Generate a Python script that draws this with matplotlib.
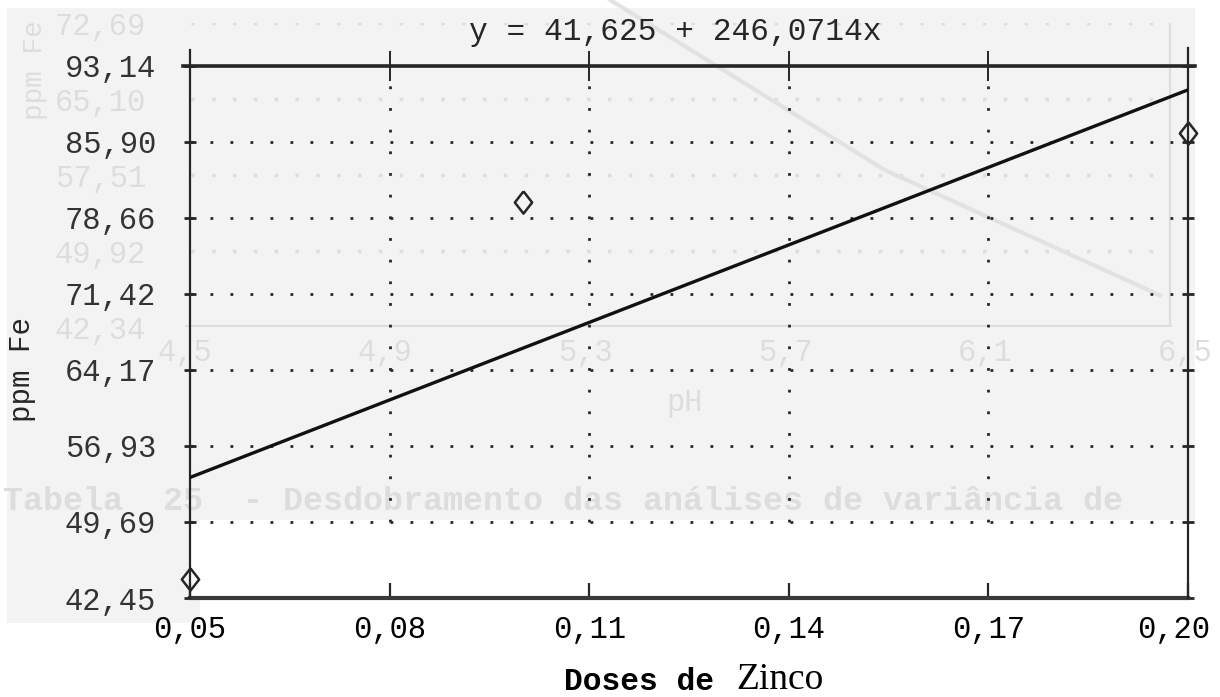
import matplotlib.pyplot as plt
from matplotlib.patches import Rectangle
from matplotlib.transforms import ScaledTranslation

# observacoes (doses de zinco x ppm Fe)
doses = [0.05, 0.10, 0.20]
fe_ppm = [44.3, 80.2, 86.7]

# reta ajustada
intercept = 41.625
slope = 246.0714

x_ticks = [0.05, 0.08, 0.11, 0.14, 0.17, 0.20]
y_ticks = [42.45, 49.69, 56.93, 64.17, 71.42, 78.66, 85.90, 93.14]

# grafico da pagina anterior (transparece no papel)
ghost_y_ticks = [42.34, 49.92, 57.51, 65.10, 72.69]
ghost_x_ticks = [4.5, 4.9, 5.3, 5.7, 6.1, 6.5]
ghost_ph = [5.35, 5.9, 6.45]
ghost_fe = [75.0, 58.0, 45.5]
ghost_caption = "Tabela  25  - Desdobramento das análises de variância de"

W, H = 1220, 697
MONO = "Liberation Mono"
INK = "#262626"
GHOST = "#dddddd"


def virgula(v, casas=2):
    return f"{v:.{casas}f}".replace(".", ",")


fig = plt.figure(figsize=(W / 100, H / 100), dpi=100)
fig.patch.set_facecolor("white")

# fundo acinzentado da digitalizacao, em pixels da figura
bg = fig.add_axes([0, 0, 1, 1], zorder=0)
bg.set_xlim(0, W)
bg.set_ylim(H, 0)
bg.axis("off")
bg.add_patch(Rectangle((7, 8), 1188, 512, color="#f3f3f3", lw=0))
bg.add_patch(Rectangle((7, 520), 193, 103, color="#f3f3f3", lw=0))

# grafico fantasma
gh = fig.add_axes([185 / W, 1 - 327 / H, 1000 / W, 304 / H], zorder=1)
gh.patch.set_visible(False)
gh.set_xlim(4.5, 6.5)
gh.set_ylim(42.34, 72.69)
for s in gh.spines.values():
    s.set_visible(False)
gh.tick_params(length=0, colors=GHOST, labelsize=22, pad=28)
gh.set_yticks(ghost_y_ticks, [virgula(v) for v in ghost_y_ticks], fontfamily=MONO)
gh.set_xticks(ghost_x_ticks, [virgula(v, 1) for v in ghost_x_ticks], fontfamily=MONO)
gh.tick_params(axis="x", pad=8)
gh.hlines(ghost_y_ticks[1:], 4.47, 6.47, colors=GHOST, lw=2.5, linestyles=(0, (1, 5)))
gh.axhline(ghost_y_ticks[0], 0, 0.985, color=GHOST, lw=3)
gh.axvline(6.47, color=GHOST, lw=1.6)
gh.plot(ghost_ph, ghost_fe, color="#e2e2e2", lw=3, clip_on=False)
gh.set_xlabel("pH", fontfamily=MONO, fontsize=22, color=GHOST, labelpad=14)
fig.text(35 / W, 1 - 70 / H, "ppm Fe", rotation=90, ha="center", va="center",
         fontfamily=MONO, fontsize=20, color=GHOST, zorder=1)
fig.text(3 / W, 1 - 502 / H, ghost_caption, ha="left", va="center",
         fontfamily=MONO, fontsize=24, fontweight="bold", color=GHOST, zorder=1)

# grafico principal
ax = fig.add_axes([190 / W, 1 - 598 / H, 998 / W, (598 - 65.7) / H], zorder=2)
ax.patch.set_visible(False)
ax.set_xlim(x_ticks[0], x_ticks[-1])
ax.set_ylim(y_ticks[0], y_ticks[-1])

ax.axhspan(y_ticks[0], y_ticks[1], color="white", zorder=0.5, lw=0)

for s in ["top", "left", "right"]:
    ax.spines[s].set_visible(False)
ax.spines["bottom"].set_linewidth(3)
ax.spines["bottom"].set_color("#3a3a3a")

ax.axhline(y_ticks[-1], -0.007, 1.007, color=INK, lw=2.6, clip_on=False, zorder=3)
ax.axvline(x_ticks[0], 0, 1.03, color=INK, lw=1.6, clip_on=False, zorder=3)
ax.axvline(x_ticks[-1], 0, 1.033, color=INK, lw=1.6, clip_on=False, zorder=3)

# grade pontilhada
ax.hlines(y_ticks[1:-1], x_ticks[0], x_ticks[-1], colors=INK, lw=2,
          linestyles=(0, (1, 6.2)), zorder=2)
ax.vlines(x_ticks[1:-1], y_ticks[1], y_ticks[-1], colors=INK, lw=2,
          linestyles=(0, (1, 6.8)), zorder=2)

ax.set_xticks(x_ticks, [virgula(v) for v in x_ticks])
ax.set_yticks(y_ticks, [virgula(v) for v in y_ticks])
ax.tick_params(axis="x", direction="in", length=11, width=1.6, color=INK,
               labelsize=22, pad=12, labelcolor="black")
ax.tick_params(axis="y", direction="inout", length=9, width=2, color=INK,
               labelsize=22, pad=20, labelcolor="#333333", right=True)
for lab in ax.get_xticklabels() + ax.get_yticklabels():
    lab.set_fontfamily(MONO)
# ultimo rotulo do eixo x recuado para caber na margem
last = ax.get_xticklabels()[-1]
last.set_transform(last.get_transform() + ScaledTranslation(-0.14, 0, fig.dpi_scale_trans))

top = ax.secondary_xaxis("top")
top.set_xticks(x_ticks, [""] * len(x_ticks))
top.tick_params(direction="inout", length=22, width=1.4, color=INK)
top.spines["top"].set_visible(False)

xs = [x_ticks[0], x_ticks[-1]]
ax.plot(xs, [intercept + slope * x for x in xs], color="#111111", lw=2.4, zorder=4)

losango = [(0, 1), (0.78, 0), (0, -1), (-0.78, 0), (0, 1)]
ax.plot(doses, fe_ppm, linestyle="none", marker=losango, markersize=16,
        markerfacecolor="none", markeredgecolor=INK, markeredgewidth=1.8,
        clip_on=False, zorder=5)

eq = f"y = {virgula(intercept, 3)} + {virgula(slope, 4)}x"
fig.text(675 / W, 1 - 32 / H, eq, ha="center", va="center",
         fontfamily=MONO, fontsize=22.5, color=INK, zorder=3)

fig.text(22 / W, 1 - 370 / H, "ppm Fe", rotation=90, ha="center", va="center",
         fontfamily=MONO, fontsize=21, color=INK, zorder=3)
fig.text(733 / W, 1 - 682 / H, "Doses de ", ha="right", va="center",
         fontfamily=MONO, fontsize=22.5, fontweight="bold", color="black", zorder=3)
fig.text(736 / W, 1 - 680 / H, "Zinco", ha="left", va="center",
         fontfamily="Liberation Serif", fontsize=27, color="black", zorder=3)

fig.savefig("out.png", dpi=100)
